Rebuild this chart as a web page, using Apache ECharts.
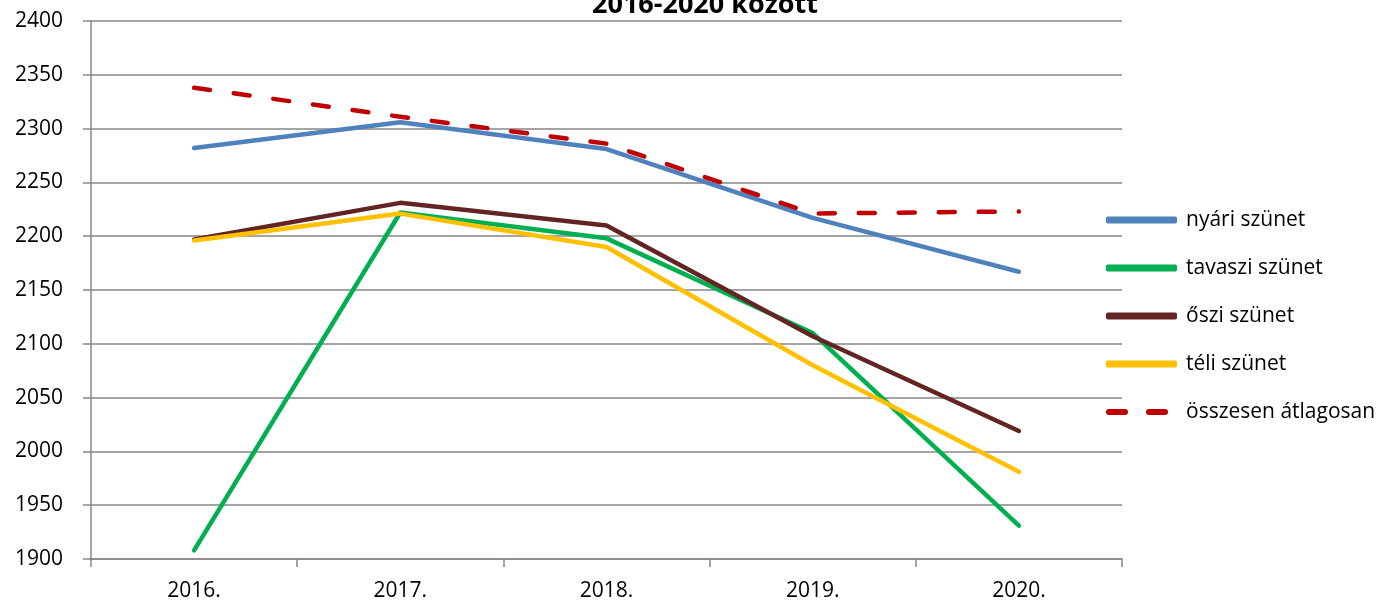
<!DOCTYPE html>
<html>
<head>
<meta charset="utf-8">
<script src="https://cdn.jsdelivr.net/npm/echarts@6/dist/echarts.min.js"></script>
<style>
  html, body { margin: 0; padding: 0; background: #fff; }
  #chart { width: 1387px; height: 604px; }
</style>
</head>
<body>
<div id="chart"></div>
<script>
// adatok
var years = ['2016.', '2017.', '2018.', '2019.', '2020.'];
var nyari = [2282, 2306, 2281, 2217, 2167];
var tavaszi = [1908, 2222, 2198, 2110, 1931];
var oszi = [2197, 2231, 2210, 2107, 2019];
var teli = [2196, 2221, 2190, 2080, 1981];
var osszesen = [2338, 2311, 2286, 2221, 2223];

var font = 'Open Sans';
var myChart = echarts.init(document.getElementById('chart'));

function line(name, data, color, dashed) {
  return {
    name: name,
    type: 'line',
    data: data,
    symbol: 'none',
    lineStyle: {
      color: color,
      width: 4.5,
      type: dashed ? [16, 24] : 'solid',
      cap: 'round',
      join: 'round'
    },
    itemStyle: { color: color }
  };
}

var option = {
  animation: false,
  title: {
    text: '2016-2020 között',
    left: 700,
    textAlign: 'center',
    top: -13,
    textStyle: { fontFamily: font, fontWeight: 'bold', fontSize: 27, color: '#000' }
  },
  grid: { left: 91, right: 265, top: 21, bottom: 45 },
  legend: {
    orient: 'vertical',
    left: 1101,
    top: 201,
    itemWidth: 71,
    itemHeight: 7,
    itemGap: 20,
    icon: 'roundRect',
    itemStyle: { borderWidth: 0 },
    textStyle: { fontFamily: font, fontSize: 21, lineHeight: 28, color: '#000', padding: [0, 0, 0, 4] },
    data: [
      { name: 'nyári szünet' },
      { name: 'tavaszi szünet' },
      { name: 'őszi szünet' },
      { name: 'téli szünet' },
      { name: 'összesen átlagosan', icon: 'path://M3,0 L19,0 A3,3 0 0 1 19,6 L3,6 A3,3 0 0 1 3,0 Z M43,0 L59,0 A3,3 0 0 1 59,6 L43,6 A3,3 0 0 1 43,0 Z M71,0 L71,6 Z' }
    ]
  },
  xAxis: {
    type: 'category',
    data: years,
    boundaryGap: true,
    axisLine: { lineStyle: { color: '#868686', width: 1.5 } },
    axisTick: { show: true, length: 8, alignWithLabel: false, lineStyle: { color: '#868686', width: 1.5 } },
    axisLabel: { fontFamily: font, fontSize: 21, color: '#000', margin: 22 }
  },
  yAxis: {
    type: 'value',
    min: 1900,
    max: 2400,
    interval: 50,
    axisLine: { show: true, lineStyle: { color: '#868686', width: 1.5 } },
    axisTick: { show: true, length: 8, lineStyle: { color: '#868686', width: 1.5 } },
    axisLabel: { fontFamily: font, fontSize: 21, color: '#000', margin: 28, formatter: function (v) { return String(v); } },
    splitLine: { lineStyle: { color: '#868686', width: 1.5 } }
  },
  series: [
    line('nyári szünet', nyari, '#4f81bd'),
    line('tavaszi szünet', tavaszi, '#00b050'),
    line('őszi szünet', oszi, '#632523'),
    line('téli szünet', teli, '#ffc000'),
    line('összesen átlagosan', osszesen, '#c00000', true)
  ]
};

myChart.setOption(option);
</script>
</body>
</html>
